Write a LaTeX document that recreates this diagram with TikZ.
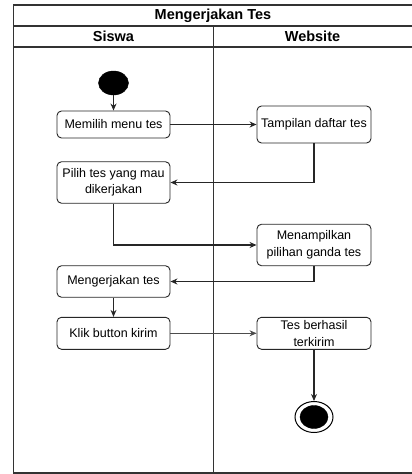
\documentclass[tikz,border=0pt]{standalone}
\usepackage{fontspec}
\setmainfont{Liberation Sans}
\usetikzlibrary{arrows.meta,shapes.geometric}
\begin{document}
\begin{tikzpicture}[x=1pt,y=-1pt,
  frame/.style={line width=1.4pt,draw=black!80},
  act/.style={draw=black!85,line width=0.9pt,rounded corners=4.5pt,align=center,inner sep=0pt,
    font=\fontsize{12.5}{16.5}\selectfont},
  flow/.style={draw=black!85,line width=1.1pt,-{Stealth[length=7pt,width=6pt]}},
  thin flow/.style={draw=black!70,line width=0.8pt,-{Stealth[length=7pt,width=6pt]}},
  head/.style={font=\fontsize{14.5}{16}\selectfont\bfseries,inner sep=0pt}
]
\useasboundingbox (0,0) rectangle (412,474);
% swimlane frame
\draw[frame] (413,5) -- (13.5,5) -- (13.5,473) -- (413,473);
\draw[frame] (13.5,26) -- (413,26);
\draw[frame] (13.5,47) -- (413,47);
\draw[frame] (213.5,26) -- (213.5,473);
\node[head] (title) at (213,15.5) {Mengerjakan Tes};
\node[head] (siswa) at (113.5,36.5) {Siswa};
\node[head] (web) at (312.5,36.5) {Website};
% nodes
\node[ellipse,fill=black,draw=black,minimum width=30pt,minimum height=24pt,inner sep=0pt] (start) at (113.5,83) {};
\node[act,minimum width=113pt,minimum height=27pt] (memilih) at (113.5,124.5) {Memilih menu tes};
\node[act,minimum width=114pt,minimum height=37pt] (tampilan) at (314,124.5) {Tampilan daftar tes};
\node[act,minimum width=113pt,minimum height=41.5pt] (pilih) at (113.5,182.5) {Pilih tes yang mau\\dikerjakan};
\node[act,minimum width=114pt,minimum height=41.5pt] (menampilkan) at (314,245) {Menampilkan\\pilihan ganda tes};
\node[act,minimum width=113pt,minimum height=31.5pt] (mengerjakan) at (113.5,281.5) {Mengerjakan tes};
\node[act,minimum width=113pt,minimum height=32pt] (klik) at (113.5,333.3) {Klik button kirim};
\node[act,minimum width=114pt,minimum height=32pt] (tes) at (314,333.3) {Tes berhasil\\terkirim};
\node[ellipse,draw=black,line width=1pt,fill=white,minimum width=38pt,minimum height=31pt,inner sep=0pt] (end) at (314,417) {};
\node[ellipse,fill=black,draw=black,minimum width=28pt,minimum height=23pt,inner sep=0pt] (endin) at (314,417) {};
% connectors
\draw[flow] (start) -- (memilih);
\draw[flow] (memilih) -- (tampilan);
\draw[flow] (tampilan) |- (pilih);
\draw[flow] (pilih) |- (menampilkan);
\draw[flow] (menampilkan) |- (mengerjakan);
\draw[flow] (mengerjakan) -- (klik);
\draw[thin flow] (klik) -- (tes);
\draw[flow] (tes) -- (end);
\end{tikzpicture}
\end{document}
